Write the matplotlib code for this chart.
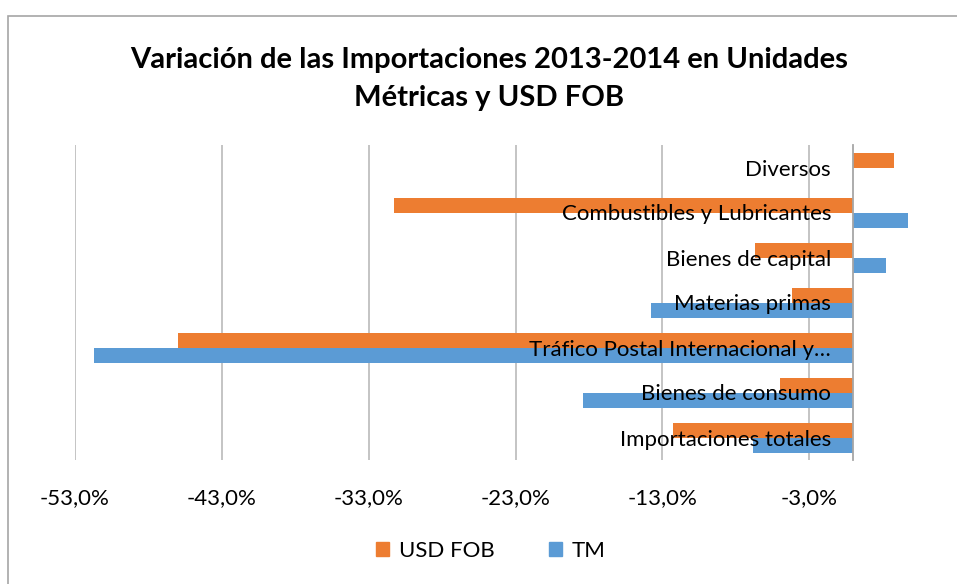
import matplotlib.pyplot as plt
import matplotlib.patches as mpatches
import numpy as np

plt.rcParams['font.family'] = ['Lato', 'DejaVu Sans']

# categories from bottom to top
categories = ['Importaciones totales', 'Bienes de consumo',
              'Tráfico Postal Internacional y…', 'Materias primas',
              'Bienes de capital', 'Combustibles y Lubricantes', 'Diversos']
usd_fob = [-12.3, -5.0, -46.0, -4.2, -6.7, -31.3, 2.8]
tm = [-6.8, -18.4, -51.7, -13.8, 2.2, 3.7, 0.0]
xticks = [-53, -43, -33, -23, -13, -3]

orange = '#ED7D31'
blue = '#5B9BD5'

fig = plt.figure(figsize=(9.57, 5.84), dpi=100)
ax = fig.add_axes([75 / 957, 1 - 460 / 584, (912 - 75) / 957, (460 - 145) / 584])

y = np.arange(len(categories))
h = 1 / 3
ax.barh(y + h / 2, usd_fob, height=h, color=orange, label='USD FOB', zorder=3)
ax.barh(y - h / 2, tm, height=h, color=blue, label='TM', zorder=3)

ax.set_xlim(-53, 4)
ax.set_ylim(-0.5, len(categories) - 0.5)
ax.set_xticks(xticks)
ax.set_xticklabels([f'{v:.1f}%'.replace('.', ',') for v in xticks])
ax.set_yticks(y)
ax.set_yticklabels(categories)
ax.grid(axis='x', color='#BFBFBF', linewidth=1.3, zorder=0)

for s in ['top', 'right', 'bottom']:
    ax.spines[s].set_visible(False)
ax.spines['left'].set_position(('data', 0))
ax.spines['left'].set_color('#A6A6A6')
ax.spines['left'].set_linewidth(1.3)
ax.spines['left'].set_zorder(4)
ax.tick_params(axis='both', length=0, labelsize=16, colors='#000000')
ax.tick_params(axis='x', pad=20)
ax.tick_params(axis='y', pad=16)
ax.yaxis.set_zorder(5)

fig.text(0.511, 0.865, 'Variación de las Importaciones 2013-2014 en Unidades\nMétricas y USD FOB',
         ha='center', va='center', fontsize=21, fontweight='bold', linespacing=1.55)

handles = [mpatches.Patch(color=orange, label='USD FOB'), mpatches.Patch(color=blue, label='TM')]
fig.legend(handles=handles, loc='center', bbox_to_anchor=(0.513, 1 - 551 / 584), ncol=2,
           frameon=False, fontsize=16, handlelength=0.6, handleheight=0.6,
           columnspacing=2.4, handletextpad=0.45)

border = mpatches.Rectangle((8 / 957, -0.1), 1.2, (584 - 16) / 584 + 0.1,
                            transform=fig.transFigure, fill=False, edgecolor='#A6A6A6', linewidth=1.2)
fig.patches.append(border)

fig.savefig('out.png', dpi=100)
